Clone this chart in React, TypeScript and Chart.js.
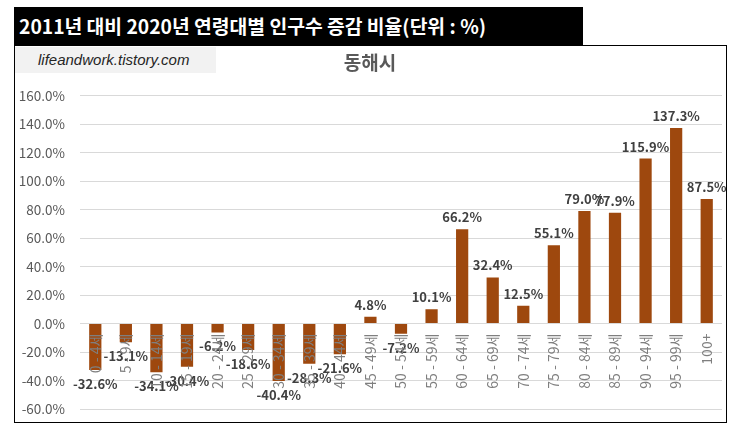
import { Chart, registerables } from "chart.js";
import { useEffect, useRef } from "react";

Chart.register(...registerables);

const ageGroups = [
  "0 - 4세", "5 - 9세", "10 - 14세", "15 - 19세", "20 - 24세", "25 - 29세",
  "30 - 34세", "35 - 39세", "40 - 44세", "45 - 49세", "50 - 54세", "55 - 59세",
  "60 - 64세", "65 - 69세", "70 - 74세", "75 - 79세", "80 - 84세", "85 - 89세",
  "90 - 94세", "95 - 99세", "100+",
];
const changeRates = [
  -32.6, -13.1, -34.1, -30.4, -6.2, -18.6, -40.4, -28.3, -21.6, 4.8, -7.2,
  10.1, 66.2, 32.4, 12.5, 55.1, 79.0, 77.9, 115.9, 137.3, 87.5,
];
const yTicks = [-60, -40, -20, 0, 20, 40, 60, 80, 100, 120, 140, 160];

const KR = "'Noto Sans CJK KR', 'Noto Sans', sans-serif";

// value labels above positive bars / below negative bars
const valueLabels = {
  id: "valueLabels",
  afterDatasetsDraw(chart: Chart) {
    const ctx = chart.ctx;
    const meta = chart.getDatasetMeta(0);
    ctx.save();
    ctx.font = `bold 13px ${KR}`;
    ctx.fillStyle = "#404040";
    ctx.textAlign = "center";
    ctx.textBaseline = "middle";
    meta.data.forEach((bar: any, i: number) => {
      const v = changeRates[i];
      const y = v >= 0 ? bar.y - 12 : bar.y + 14;
      ctx.fillText(`${v.toFixed(1)}%`, bar.x, y);
    });
    ctx.restore();
  },
};

function DonghaeChart() {
  const canvasRef = useRef<HTMLCanvasElement | null>(null);
  const chartRef = useRef<Chart | null>(null);

  useEffect(() => {
    const canvas = canvasRef.current;
    if (!canvas) return;
    const ctx = canvas.getContext("2d");
    if (!ctx) return;

    chartRef.current?.destroy();
    chartRef.current = new Chart(ctx, {
      type: "bar",
      data: {
        labels: ageGroups,
        datasets: [
          {
            label: "증감 비율",
            data: changeRates,
            backgroundColor: "#9E480E",
            categoryPercentage: 1,
            barPercentage: 0.4,
          },
        ],
      },
      options: {
        animation: false,
        responsive: true,
        maintainAspectRatio: false,
        layout: { padding: { top: 0, right: 14, bottom: 14, left: 18 } },
        plugins: {
          legend: { display: false },
          tooltip: { enabled: false },
          title: {
            display: true,
            text: "동해시",
            color: "#595959",
            font: { family: KR, size: 19, weight: "bold", lineHeight: 1.2 },
            padding: { top: 6, bottom: 22 },
          },
        },
        scales: {
          y: {
            min: -60,
            max: 160,
            afterBuildTicks: (scale: any) => {
              scale.ticks = yTicks.map((value) => ({ value }));
            },
            afterFit: (scale: any) => {
              scale.width = 62;
              scale.paddingTop = 0;
              scale.paddingBottom = 0;
            },
            grid: { color: "#D9D9D9", drawTicks: false },
            border: { display: false },
            ticks: {
              color: "#595959",
              padding: 15,
              font: { family: KR, size: 13.5 },
              callback: (v: any) => `${Number(v).toFixed(1)}%`,
            },
          },
          x: {
            position: { y: 0 },
            afterFit: (scale: any) => {
              scale.paddingTop = 0;
              scale.paddingBottom = 0;
            },
            grid: { display: false, drawTicks: false },
            border: { display: false },
            ticks: {
              z: 1,
              color: "#7F7F7F",
              padding: 10,
              autoSkip: false,
              minRotation: 90,
              maxRotation: 90,
              font: { family: KR, size: 14 },
            },
          },
        },
      },
      plugins: [valueLabels],
    });

    return () => {
      chartRef.current?.destroy();
      chartRef.current = null;
    };
  }, []);

  return <canvas ref={canvasRef} />;
}

export default function App() {
  return (
    <div
      style={{
        position: "fixed",
        inset: 0,
        width: 737,
        height: 432,
        overflow: "hidden",
        background: "#fff",
      }}
    >
      <div
        style={{
          position: "absolute",
          left: 14,
          top: 45,
          width: 713,
          height: 378,
          border: "1.5px solid #000",
          boxSizing: "border-box",
        }}
      />
      <div
        style={{
          position: "absolute",
          left: 15,
          top: 47,
          width: 201,
          height: 26,
          background: "#F2F2F2",
          color: "#262626",
          fontFamily: "'Liberation Sans', Arial, sans-serif",
          fontStyle: "italic",
          fontSize: 15,
          lineHeight: "26px",
          paddingLeft: 23,
          boxSizing: "border-box",
          whiteSpace: "nowrap",
        }}
      >
        lifeandwork.tistory.com
      </div>
      <div
        style={{
          position: "absolute",
          left: 0,
          top: 45,
          width: 736,
          height: 378,
        }}
      >
        <DonghaeChart />
      </div>
      <div
        style={{
          position: "absolute",
          left: 14,
          top: 7,
          width: 569,
          height: 38,
          background: "#000",
          color: "#fff",
          fontFamily: KR,
          fontWeight: "bold",
          fontSize: 19.3,
          lineHeight: "38px",
          paddingLeft: 5,
          boxSizing: "border-box",
          whiteSpace: "nowrap",
        }}
      >
        2011년 대비 2020년 연령대별 인구수 증감 비율(단위 : %)
      </div>
    </div>
  );
}
